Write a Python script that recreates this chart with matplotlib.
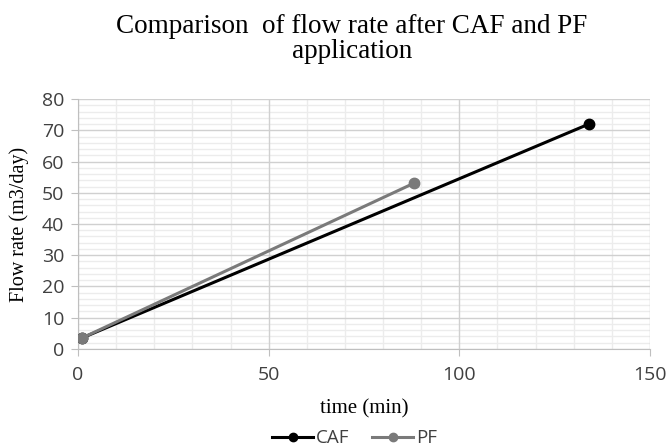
import numpy as np
import matplotlib.pyplot as plt
from matplotlib.ticker import MultipleLocator

caf_time = [1, 134]
caf_flow = [3.5, 72]
pf_time = [1, 88]
pf_flow = [3.5, 53]

fig = plt.figure(figsize=(6.69, 4.48), dpi=100)
ax = fig.add_axes([0.1166, 0.221, 0.855, 0.558])

ax.plot(caf_time, caf_flow, color='black', lw=2.2, marker='o', ms=7.5, label='CAF', zorder=3)
ax.plot(pf_time, pf_flow, color='#7a7a7a', lw=2.2, marker='o', ms=7.5, label='PF', zorder=4)

ax.set_xlim(0, 150)
ax.set_ylim(0, 80)
ax.xaxis.set_major_locator(MultipleLocator(50))
ax.xaxis.set_minor_locator(MultipleLocator(10))
ax.yaxis.set_major_locator(MultipleLocator(10))
ax.yaxis.set_minor_locator(MultipleLocator(2))
ax.grid(which='minor', color='#ececec', lw=1)
ax.yaxis.grid(which='major', color='#d0d0d0', lw=1)
for xv in ax.get_xticks()[1:]:
    ax.axvline(xv, color='#d0d0d0', lw=1, zorder=1)
ax.set_axisbelow(True)

for s in ['top', 'right']:
    ax.spines[s].set_visible(False)
for s in ['left', 'bottom']:
    ax.spines[s].set_color('#bfbfbf')
ax.tick_params(which='major', length=5, color='#bfbfbf', labelsize=14,
               labelcolor='#404040', pad=5)
ax.tick_params(axis='x', which='major', pad=7)
ax.tick_params(which='minor', length=0)
for lbl in ax.get_xticklabels() + ax.get_yticklabels():
    lbl.set_fontfamily('Open Sans')

ax.set_xlabel('time (min)', family='Liberation Serif', fontsize=15, labelpad=11)
ax.set_ylabel('Flow rate (m3/day)', family='Liberation Serif', fontsize=14.5, labelpad=9)
fig.suptitle('Comparison  of flow rate after CAF and PF\napplication',
             family='Liberation Serif', fontsize=19.5, x=0.526, y=0.968, linespacing=1.0)

leg = fig.legend(loc='center', bbox_to_anchor=(0.53, 0.022), ncol=2, frameon=False,
                 prop={'family': 'Open Sans', 'size': 13.5}, handlelength=2.2,
                 handletextpad=0.15, columnspacing=1.2, markerscale=0.8)
for t in leg.get_texts():
    t.set_color('#404040')

plt.savefig('out.png', dpi=100)
